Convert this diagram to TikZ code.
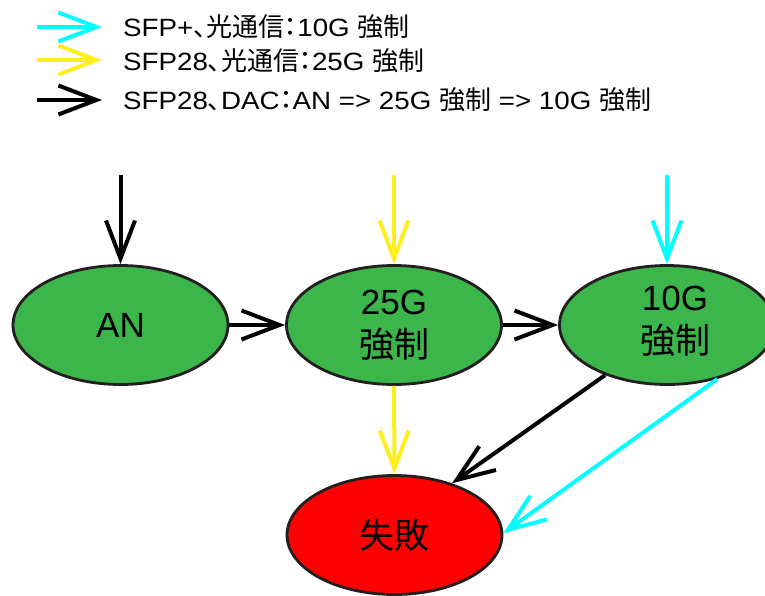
\documentclass[tikz,border=0pt]{standalone}
\usepackage{fontspec}
\setmainfont{Liberation Sans}
\newfontfamily\cjk{Noto Sans CJK JP}
\newfontfamily\legendlatin[FakeStretch=1.11]{Liberation Sans}
\newfontfamily\legendcjk[RawFeature=+palt]{Noto Sans CJK JP}
\usetikzlibrary{arrows.meta,shapes.geometric}
\definecolor{okgreen}{HTML}{3CB54A}
\definecolor{failred}{HTML}{FF0000}
\definecolor{optcyan}{HTML}{00FFFF}
\definecolor{optyellow}{HTML}{FFEE1E}
\definecolor{rimgray}{HTML}{231F20}
\newcommand{\lj}[1]{{\legendcjk\fontsize{26}{28}\selectfont #1}}
\begin{document}
\begin{tikzpicture}[x=1pt,y=-1pt,
  state/.style={ellipse,draw=rimgray,line width=2.8pt,minimum width=215pt,
    minimum height=119pt,inner sep=0pt,align=center,
    font=\fontsize{35}{43}\selectfont},
  statetext/.style={align=center,inner sep=0pt,font=\fontsize{35}{43}\selectfont},
  flow/.style={line width=4pt,-{Straight Barb[length=38pt,width=29pt]}},
  legendtext/.style={anchor=base west,inner sep=0pt,
    font=\legendlatin\fontsize{25}{28}\selectfont}]
\useasboundingbox (0,0) rectangle (765,595);

% legend
\coordinate (l1a) at (37,27);  \coordinate (l1b) at (102,27);
\coordinate (l2a) at (37,60);  \coordinate (l2b) at (102,60);
\coordinate (l3a) at (37,100); \coordinate (l3b) at (102,100);
\draw[flow,optcyan] (l1a) -- (l1b);
\draw[flow,optyellow] (l2a) -- (l2b);
\draw[flow,black] (l3a) -- (l3b);
\node[legendtext] (t1) at (123,36) {SFP+\lj{、光通信：}10G \lj{強制}};
\node[legendtext] (t2) at (123,70) {SFP28\lj{、光通信：}25G \lj{強制}};
\node[legendtext] (t3) at (123,109) {SFP28\lj{、}DAC\lj{：}AN => 25G \lj{強制} => 10G \lj{強制}};

% states
\node[state,fill=okgreen] (an) at (120.5,325) {AN};
\node[state,fill=okgreen] (g25) at (394,325) {25G\\{\cjk 強制}};
\node[state,fill=okgreen] (g10) at (667,325) {};
\node[statetext] (g10t) at (675,321) {10G\\{\cjk 強制}};
\node[state,fill=failred] (fail) at (394.5,535) {\cjk 失敗};

% entry points
\coordinate (inan) at (120.5,175);
\coordinate (in25) at (394,175);
\coordinate (in10) at (667,175);

% transitions
\draw[flow,black] (inan) -- (an.north);
\draw[flow,optyellow] (in25) -- (g25.north);
\draw[flow,optcyan] (in10) -- (g10.north);
\draw[flow,black] (an.east) -- (g25.west);
\draw[flow,black] (g25.east) -- (g10.west);
\draw[flow,optyellow] (g25.south) -- (fail.north);
\draw[flow,black] (g10.219) -- (fail.42);
\draw[flow,optcyan] (g10.313) -- (fail.1);
\end{tikzpicture}
\end{document}
